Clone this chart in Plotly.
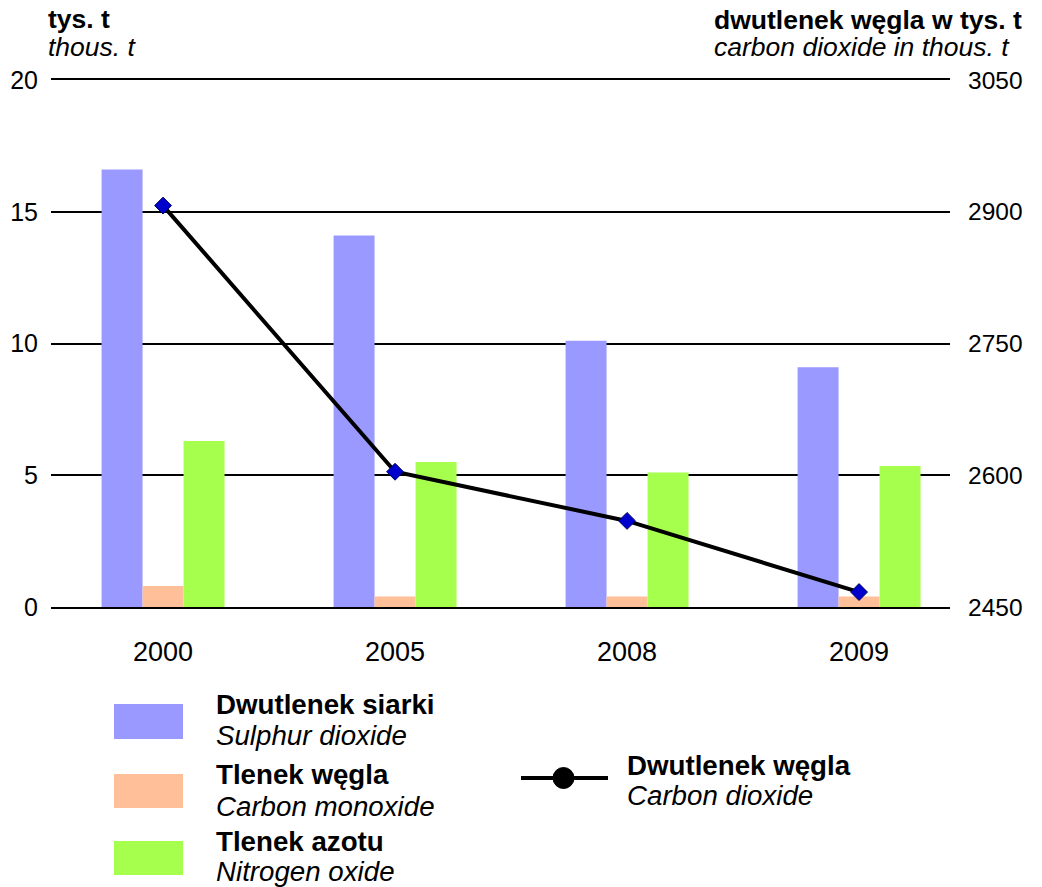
import plotly.graph_objects as go

years = ["2000", "2005", "2008", "2009"]
sulphur_dioxide = [16.6, 14.1, 10.1, 9.1]
carbon_monoxide = [0.8, 0.4, 0.4, 0.4]
nitrogen_oxide = [6.3, 5.5, 5.1, 5.35]
carbon_dioxide = [2907, 2604, 2548, 2467]

bar_names_pl = ["Dwutlenek siarki", "Tlenek węgla", "Tlenek azotu"]
bar_names_en = ["Sulphur dioxide", "Carbon monoxide", "Nitrogen oxide"]
line_name_pl = "Dwutlenek węgla"
line_name_en = "Carbon dioxide"
bar_colors = ["#9999FF", "#FFBF99", "#A6FF4D"]

left_title = ("tys. t", "thous. t")
right_title = ("dwutlenek węgla w tys. t", "carbon dioxide in thous. t")

W, H = 1042, 887
OFF = 8  # page body margin
# plot area in page pixels
PL, PR, PT, PB = 51, 950, 80, 607
L, R, T, B = PL - OFF, PR - OFF, PT - OFF, PB - OFF
FONT = "Liberation Sans, Arial, sans-serif"
LEG = 27.7
TIT = 26.5


def px(x):
    return (x - PL) / (PR - PL)


def py(y):
    return (PB - y) / (PB - PT)


fig = go.Figure()
for name, vals, col in zip(bar_names_en, [sulphur_dioxide, carbon_monoxide, nitrogen_oxide], bar_colors):
    fig.add_trace(go.Bar(x=years, y=vals, name=name, marker=dict(color=col, line=dict(width=0)),
                         showlegend=False))

fig.add_trace(go.Scatter(x=years, y=carbon_dioxide, yaxis="y2", mode="lines+markers",
                         name=line_name_en, showlegend=False,
                         line=dict(color="black", width=4),
                         marker=dict(symbol="diamond", size=13, color="#0000CC",
                                     line=dict(color="#000066", width=1))))

shapes = []
annotations = []


def add_text(x, y, text, size):
    annotations.append(dict(xref="paper", yref="paper", x=px(x), y=py(y), text=text,
                            showarrow=False, xanchor="left", yanchor="middle",
                            font=dict(size=size, family=FONT, color="black")))


# manual legend
sw_y = [(704, 739), (774, 808), (841, 875)]
txt_y = [(704, 735), (774, 806), (841, 871)]
for (y0, y1), col, (tb, ti), npl, nen in zip(sw_y, bar_colors, txt_y, bar_names_pl, bar_names_en):
    shapes.append(dict(type="rect", xref="paper", yref="paper", x0=px(114), x1=px(183),
                       y0=py(y1), y1=py(y0), fillcolor=col, line=dict(width=0)))
    add_text(214, tb, "<b>%s</b>" % npl, LEG)
    add_text(214, ti, "<i>%s</i>" % nen, LEG)

shapes.append(dict(type="line", xref="paper", yref="paper", x0=px(521), x1=px(608),
                   y0=py(778), y1=py(778), line=dict(color="black", width=4)))
shapes.append(dict(type="circle", xref="paper", yref="paper", x0=px(553), x1=px(574),
                   y0=py(788.5), y1=py(767.5), fillcolor="black", line=dict(color="black", width=1)))
add_text(625, 765, "<b>%s</b>" % line_name_pl, LEG)
add_text(625, 795, "<i>%s</i>" % line_name_en, LEG)

# axis titles
add_text(46, 19, "<b>%s</b>" % left_title[0], TIT)
add_text(46, 47, "<i>%s</i>" % left_title[1], TIT)
add_text(712, 20, "<b>%s</b>" % right_title[0], TIT)
add_text(712, 47, "<i>%s</i>" % right_title[1], TIT)

fig.update_layout(
    width=W, height=H,
    margin=dict(l=L, r=W - R, t=T, b=H - B, pad=0, autoexpand=False),
    paper_bgcolor="white", plot_bgcolor="white",
    barmode="group", bargap=0.47, bargroupgap=0,
    font=dict(family=FONT, size=24, color="black"),
    xaxis=dict(type="category", range=[-0.483, 3.392], showgrid=False,
               showline=True, mirror=True, linecolor="black", linewidth=1.8,
               ticks="", tickfont=dict(size=27), ticklabelstandoff=20, zeroline=False),
    yaxis=dict(range=[0, 20], tick0=0, dtick=5, showgrid=True, gridcolor="black", gridwidth=1.6,
               zeroline=False, showline=False, ticks="", tickfont=dict(size=25),
               ticklabelstandoff=12),
    yaxis2=dict(range=[2450, 3050], tick0=2450, dtick=150, overlaying="y", side="right",
                showgrid=False, zeroline=False, showline=False, ticks="", tickfont=dict(size=24.5),
                ticklabelstandoff=17),
    shapes=shapes,
    annotations=annotations,
)

fig.write_html("out.html")
